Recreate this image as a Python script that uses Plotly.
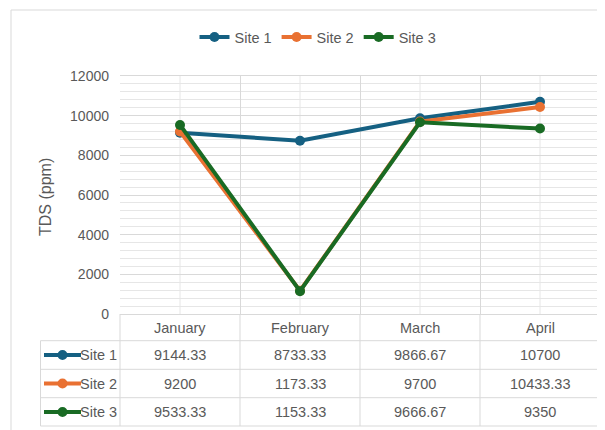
import plotly.graph_objects as go

months = ["January", "February", "March", "April"]
series_names = ["Site 1", "Site 2", "Site 3"]
site1 = [9144.33, 8733.33, 9866.67, 10700]
site2 = [9200, 1173.33, 9700, 10433.33]
site3 = [9533.33, 1153.33, 9666.67, 9350]
series_values = [site1, site2, site3]
y_ticks = [0, 2000, 4000, 6000, 8000, 10000, 12000]
y_title = "TDS (ppm)"

colors = ["#156082", "#E97132", "#196B24"]
GRID = "#D9D9D9"
MINOR = "#E6E6E6"
TXT = "#595959"
TFONT = "Liberation Sans"
REG = "Liberation Sans"

OFF = 8  # page body margin in the browser
W, H = 605 - OFF, 430 - OFF
PL, PR, PT, PB = 120, 600, 76, 314
L, R, T, B = PL - OFF, (W + OFF) - PR, PT - OFF, (H + OFF) - PB
PW, PH = PR - PL, PB - PT


def px(x):
    return (x - PL) / PW


def py(y):
    return (PB - y) / PH


def fmt(v):
    return f"{v:.2f}".rstrip("0").rstrip(".")


fig = go.Figure()
for name, vals, col in zip(series_names, series_values, colors):
    fig.add_trace(go.Scatter(
        x=months, y=vals, name=name, mode="lines+markers",
        line=dict(color=col, width=4),
        marker=dict(color=col, size=10),
    ))

shapes = []
for m in months:
    shapes.append(dict(type="line", xref="x", yref="paper", x0=m, x1=m, y0=0, y1=1,
                       line=dict(color=MINOR, width=1), layer="below"))

row_lines = [340.7, 369.3, 397.7, 426]
row_centers = [355, 383.5, 412]
header_center = 327.5
tbl_left = 40.5

for i in range(len(months) + 1):
    xp = i / len(months)
    shapes.append(dict(type="line", xref="paper", yref="paper", x0=xp, x1=xp,
                       y0=py(426), y1=0, line=dict(color=GRID, width=1)))
for yl in row_lines:
    shapes.append(dict(type="line", xref="paper", yref="paper", x0=px(tbl_left), x1=1,
                       y0=py(yl), y1=py(yl), line=dict(color=GRID, width=1)))
shapes.append(dict(type="line", xref="paper", yref="paper", x0=px(tbl_left), x1=px(tbl_left),
                   y0=py(426), y1=py(340.7), line=dict(color=GRID, width=1)))
shapes.append(dict(type="rect", xref="paper", yref="paper", x0=px(11), x1=px(612),
                   y0=py(440), y1=py(10), line=dict(color=GRID, width=1), layer="below"))

annotations = []
for m in months:
    annotations.append(dict(x=m, xref="x", y=py(header_center), yref="paper", text=m,
                            showarrow=False, font=dict(family=TFONT, size=14.5, color=TXT),
                            xanchor="center", yanchor="middle"))
for name, vals, col, yc in zip(series_names, series_values, colors, row_centers):
    for m, v in zip(months, vals):
        annotations.append(dict(x=m, xref="x", y=py(yc), yref="paper", text=fmt(v),
                                showarrow=False, font=dict(family=TFONT, size=14.5, color=TXT),
                                xanchor="center", yanchor="middle"))
    annotations.append(dict(x=px(117), xref="paper", y=py(yc), yref="paper", text=name,
                            showarrow=False, font=dict(family=TFONT, size=14.5, color=TXT),
                            xanchor="right", yanchor="middle", xshift=2))
    shapes.append(dict(type="line", xref="paper", yref="paper", x0=px(44), x1=px(81),
                       y0=py(yc), y1=py(yc), line=dict(color=col, width=4)))
    shapes.append(dict(type="circle", xref="paper", yref="paper", xsizemode="pixel",
                       ysizemode="pixel", xanchor=px(62.5), yanchor=py(yc),
                       x0=-5, x1=5, y0=-5, y1=5, fillcolor=col, line=dict(color=col, width=0)))

annotations.append(dict(x=px(45), xref="paper", y=py(197), yref="paper", text=y_title,
                        textangle=-90, showarrow=False, font=dict(family=REG, size=16, color=TXT),
                        xanchor="center", yanchor="middle"))

fig.update_layout(
    width=W, height=H,
    margin=dict(l=L, r=R, t=T, b=B, pad=0),
    paper_bgcolor="white", plot_bgcolor="white",
    showlegend=True,
    legend=dict(orientation="h", x=px(318), xanchor="center", y=py(37), yanchor="middle",
                font=dict(family=TFONT, size=14.5, color=TXT), bgcolor="rgba(0,0,0,0)"),
    xaxis=dict(type="category", categoryorder="array", categoryarray=months,
               range=[-0.5, len(months) - 0.5], showticklabels=False, ticks="",
               tickson="boundaries", showgrid=True, gridcolor=GRID, gridwidth=1,
               showline=True, linecolor=GRID, mirror=True, zeroline=False),
    yaxis=dict(range=[0, 12000], tickvals=y_ticks, tickformat="d", showgrid=True,
               gridcolor=GRID, gridwidth=1, zeroline=False, showline=False, ticks="",
               ticklabelstandoff=10,
               tickfont=dict(family=REG, size=14, color=TXT),
               minor=dict(dtick=400, showgrid=True, gridcolor=MINOR, gridwidth=1)),
    shapes=shapes, annotations=annotations,
)

fig.write_html("out.html")
